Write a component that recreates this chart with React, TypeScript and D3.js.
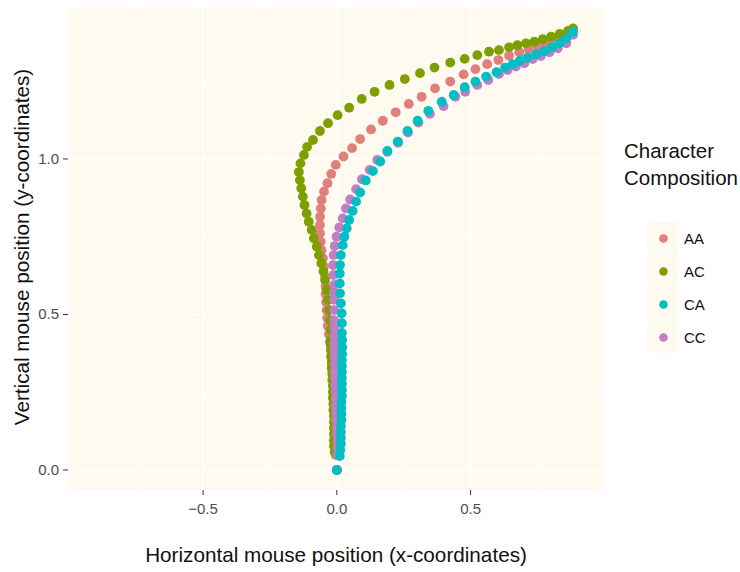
import React from "react";
import * as d3 from "d3";

// Trajectory points [x, y], bottom (start) to top (end)
const AA: [number, number][] = [
  [0, 0], [-0.004, 0.048], [-0.004, 0.071], [-0.004, 0.093], [-0.006, 0.116], [-0.006, 0.138],
  [-0.008, 0.161], [-0.008, 0.183], [-0.009, 0.206], [-0.009, 0.228], [-0.011, 0.251], [-0.013, 0.273],
  [-0.015, 0.296], [-0.017, 0.318], [-0.019, 0.341], [-0.021, 0.363], [-0.023, 0.386], [-0.026, 0.412],
  [-0.030, 0.437], [-0.034, 0.463], [-0.036, 0.489], [-0.038, 0.514], [-0.040, 0.540], [-0.042, 0.566],
  [-0.042, 0.589], [-0.044, 0.622], [-0.048, 0.654], [-0.052, 0.681], [-0.057, 0.707], [-0.060, 0.734],
  [-0.063, 0.761], [-0.063, 0.788], [-0.063, 0.814], [-0.060, 0.841], [-0.057, 0.868], [-0.048, 0.895],
  [-0.035, 0.922], [-0.021, 0.952], [-0.004, 0.981], [0.025, 1.008], [0.057, 1.035], [0.087, 1.064],
  [0.128, 1.095], [0.172, 1.123], [0.220, 1.150], [0.269, 1.177], [0.317, 1.200], [0.367, 1.227],
  [0.424, 1.249], [0.474, 1.272], [0.518, 1.289], [0.562, 1.305], [0.604, 1.318], [0.644, 1.332],
  [0.682, 1.343], [0.717, 1.353], [0.751, 1.361], [0.782, 1.372], [0.814, 1.383], [0.845, 1.393],
  [0.871, 1.409], [0.883, 1.418],
];

const AC: [number, number][] = [
  [0, 0], [-0.008, 0.058], [-0.011, 0.077], [-0.011, 0.096], [-0.011, 0.116], [-0.011, 0.135],
  [-0.011, 0.154], [-0.011, 0.174], [-0.013, 0.193], [-0.013, 0.212], [-0.015, 0.232], [-0.015, 0.251],
  [-0.015, 0.270], [-0.017, 0.289], [-0.017, 0.309], [-0.019, 0.328], [-0.019, 0.347], [-0.021, 0.367],
  [-0.021, 0.386], [-0.023, 0.402], [-0.023, 0.418], [-0.023, 0.450], [-0.025, 0.482], [-0.029, 0.514],
  [-0.033, 0.547], [-0.038, 0.579], [-0.044, 0.611], [-0.050, 0.638], [-0.058, 0.665], [-0.067, 0.691],
  [-0.075, 0.718], [-0.086, 0.745], [-0.094, 0.772], [-0.105, 0.798], [-0.113, 0.825], [-0.121, 0.852],
  [-0.127, 0.879], [-0.133, 0.906], [-0.138, 0.932], [-0.142, 0.958], [-0.136, 0.986], [-0.123, 1.013],
  [-0.111, 1.039], [-0.089, 1.061], [-0.063, 1.090], [-0.033, 1.115], [0.003, 1.141], [0.046, 1.165],
  [0.093, 1.193], [0.141, 1.216], [0.197, 1.238], [0.254, 1.257], [0.311, 1.276], [0.365, 1.294],
  [0.424, 1.310], [0.478, 1.322], [0.525, 1.334], [0.569, 1.345], [0.606, 1.350], [0.644, 1.359],
  [0.675, 1.366], [0.707, 1.372], [0.738, 1.377], [0.770, 1.385], [0.801, 1.393], [0.833, 1.402],
  [0.864, 1.412], [0.883, 1.420],
];

const CA: [number, number][] = [
  [0, 0], [0.011, 0.045], [0.013, 0.064], [0.015, 0.084], [0.015, 0.103], [0.015, 0.122],
  [0.015, 0.141], [0.017, 0.161], [0.017, 0.180], [0.017, 0.199], [0.017, 0.219], [0.019, 0.238],
  [0.019, 0.257], [0.019, 0.277], [0.019, 0.296], [0.019, 0.315], [0.019, 0.334], [0.019, 0.354],
  [0.020, 0.373], [0.020, 0.395], [0.020, 0.418], [0.019, 0.441], [0.019, 0.472], [0.018, 0.504],
  [0.015, 0.536], [0.012, 0.568], [0.011, 0.600], [0.011, 0.632], [0.012, 0.659], [0.015, 0.691],
  [0.022, 0.723], [0.028, 0.750], [0.037, 0.777], [0.046, 0.804], [0.059, 0.833], [0.072, 0.863],
  [0.087, 0.892], [0.108, 0.931], [0.135, 0.961], [0.162, 0.992], [0.189, 1.026], [0.228, 1.056],
  [0.264, 1.090], [0.302, 1.123], [0.342, 1.155], [0.392, 1.184], [0.437, 1.206], [0.478, 1.231],
  [0.518, 1.249], [0.558, 1.265], [0.597, 1.279], [0.629, 1.294], [0.657, 1.305], [0.684, 1.316],
  [0.713, 1.326], [0.745, 1.337], [0.776, 1.347], [0.805, 1.359], [0.833, 1.372], [0.858, 1.388],
  [0.883, 1.409],
];

const CC: [number, number][] = [
  [0, 0], [0.004, 0.048], [0.002, 0.071], [0.002, 0.093], [0.000, 0.116], [0.000, 0.138],
  [-0.002, 0.161], [-0.002, 0.183], [-0.004, 0.206], [-0.004, 0.228], [-0.004, 0.251], [-0.006, 0.273],
  [-0.006, 0.296], [-0.008, 0.318], [-0.008, 0.341], [-0.008, 0.363], [-0.009, 0.386], [-0.009, 0.408],
  [-0.009, 0.431], [-0.009, 0.457], [-0.010, 0.482], [-0.010, 0.514], [-0.010, 0.547], [-0.010, 0.572],
  [-0.010, 0.595], [-0.012, 0.627], [-0.014, 0.659], [-0.012, 0.691], [-0.008, 0.720], [-0.001, 0.750],
  [0.009, 0.780], [0.022, 0.809], [0.034, 0.841], [0.050, 0.870], [0.072, 0.903], [0.094, 0.935],
  [0.123, 0.965], [0.151, 0.997], [0.189, 1.023], [0.229, 1.052], [0.266, 1.085], [0.305, 1.117],
  [0.348, 1.145], [0.399, 1.170], [0.443, 1.200], [0.480, 1.216], [0.525, 1.238], [0.566, 1.254],
  [0.606, 1.273], [0.638, 1.286], [0.669, 1.297], [0.701, 1.308], [0.732, 1.321], [0.763, 1.331],
  [0.795, 1.343], [0.826, 1.356], [0.858, 1.372], [0.883, 1.399],
];

const categories = ["AA", "AC", "CA", "CC"];
const colors = ["#E07F7B", "#7DA000", "#00BFC4", "#C17EC5"];
const seriesData = [AA, AC, CA, CC];
const drawOrder = [0, 1, 3, 2];

const xMajor = [-0.5, 0, 0.5];
const xMinor = [-0.75, -0.25, 0.25, 0.75];
const yMajor = [0, 0.5, 1.0];
const yMinor = [0.25, 0.75, 1.25];

const W = 740;
const H = 572;
const panel = { left: 68, right: 603, top: 7, bottom: 490 };

export default function App() {
  const x = d3.scaleLinear().domain([-1.005, 0.995]).range([panel.left, panel.right]);
  const y = d3.scaleLinear().domain([-0.0643, 1.4887]).range([panel.bottom, panel.top]);
  const fmt = d3.format(".1f");
  const axisFont = "'Liberation Sans', Arial, sans-serif";
  const legendTop = 222;
  const keyH = 33;

  return (
    <svg width={W} height={H} style={{ position: "absolute", left: 0, top: 0, background: "#fff" }}>
      <rect x={panel.left} y={panel.top} width={panel.right - panel.left} height={panel.bottom - panel.top} fill="#FFFAEF" />
      {xMinor.map((v) => (
        <line key={"xm" + v} x1={x(v)} x2={x(v)} y1={panel.top} y2={panel.bottom} stroke="#fff" strokeWidth={0.8} />
      ))}
      {yMinor.map((v) => (
        <line key={"ym" + v} x1={panel.left} x2={panel.right} y1={y(v)} y2={y(v)} stroke="#fff" strokeWidth={0.8} />
      ))}
      {xMajor.map((v) => (
        <line key={"xM" + v} x1={x(v)} x2={x(v)} y1={panel.top} y2={panel.bottom} stroke="#fff" strokeWidth={1.6} />
      ))}
      {yMajor.map((v) => (
        <line key={"yM" + v} x1={panel.left} x2={panel.right} y1={y(v)} y2={y(v)} stroke="#fff" strokeWidth={1.6} />
      ))}

      {drawOrder.map((si) => (
        <g key={categories[si]} fill={colors[si]}>
          {seriesData[si].map((d, i) => (
            <circle key={i} cx={x(d[0])} cy={y(d[1])} r={4.9} />
          ))}
        </g>
      ))}

      {/* axes ticks */}
      {xMajor.map((v) => (
        <g key={"xt" + v}>
          <line x1={x(v)} x2={x(v)} y1={panel.bottom} y2={panel.bottom + 5} stroke="#333" strokeWidth={1} />
          <text x={x(v)} y={panel.bottom + 24} textAnchor="middle" fontSize={15} fill="#4D4D4D" fontFamily={axisFont}>
            {fmt(v)}
          </text>
        </g>
      ))}
      {yMajor.map((v) => (
        <g key={"yt" + v}>
          <line x1={panel.left - 5} x2={panel.left} y1={y(v)} y2={y(v)} stroke="#333" strokeWidth={1} />
          <text x={panel.left - 9} y={y(v) + 5} textAnchor="end" fontSize={15} fill="#4D4D4D" fontFamily={axisFont}>
            {fmt(v)}
          </text>
        </g>
      ))}

      <text x={336} y={562} textAnchor="middle" fontSize={20.7} fill="#111" fontFamily={axisFont}>
        Horizontal mouse position (x-coordinates)
      </text>
      <text
        transform={`translate(29, 247) rotate(-90)`}
        textAnchor="middle"
        fontSize={20.7}
        fill="#111"
        fontFamily={axisFont}
      >
        Vertical mouse position (y-coordinates)
      </text>

      {/* legend */}
      <text x={624} y={158} fontSize={20.5} fill="#111" fontFamily={axisFont}>Character</text>
      <text x={624} y={185} fontSize={20.5} fill="#111" fontFamily={axisFont}>Composition</text>
      {categories.map((c, i) => (
        <g key={"lg" + c} transform={`translate(647, ${legendTop + i * keyH})`}>
          <rect x={0} y={0} width={31} height={keyH - 1} fill="#FFFAEF" />
          <circle cx={16.5} cy={keyH / 2} r={4.3} fill={colors[i]} />
          <text x={37} y={keyH / 2 + 5.5} fontSize={15} fill="#111" fontFamily={axisFont}>{c}</text>
        </g>
      ))}
    </svg>
  );
}
